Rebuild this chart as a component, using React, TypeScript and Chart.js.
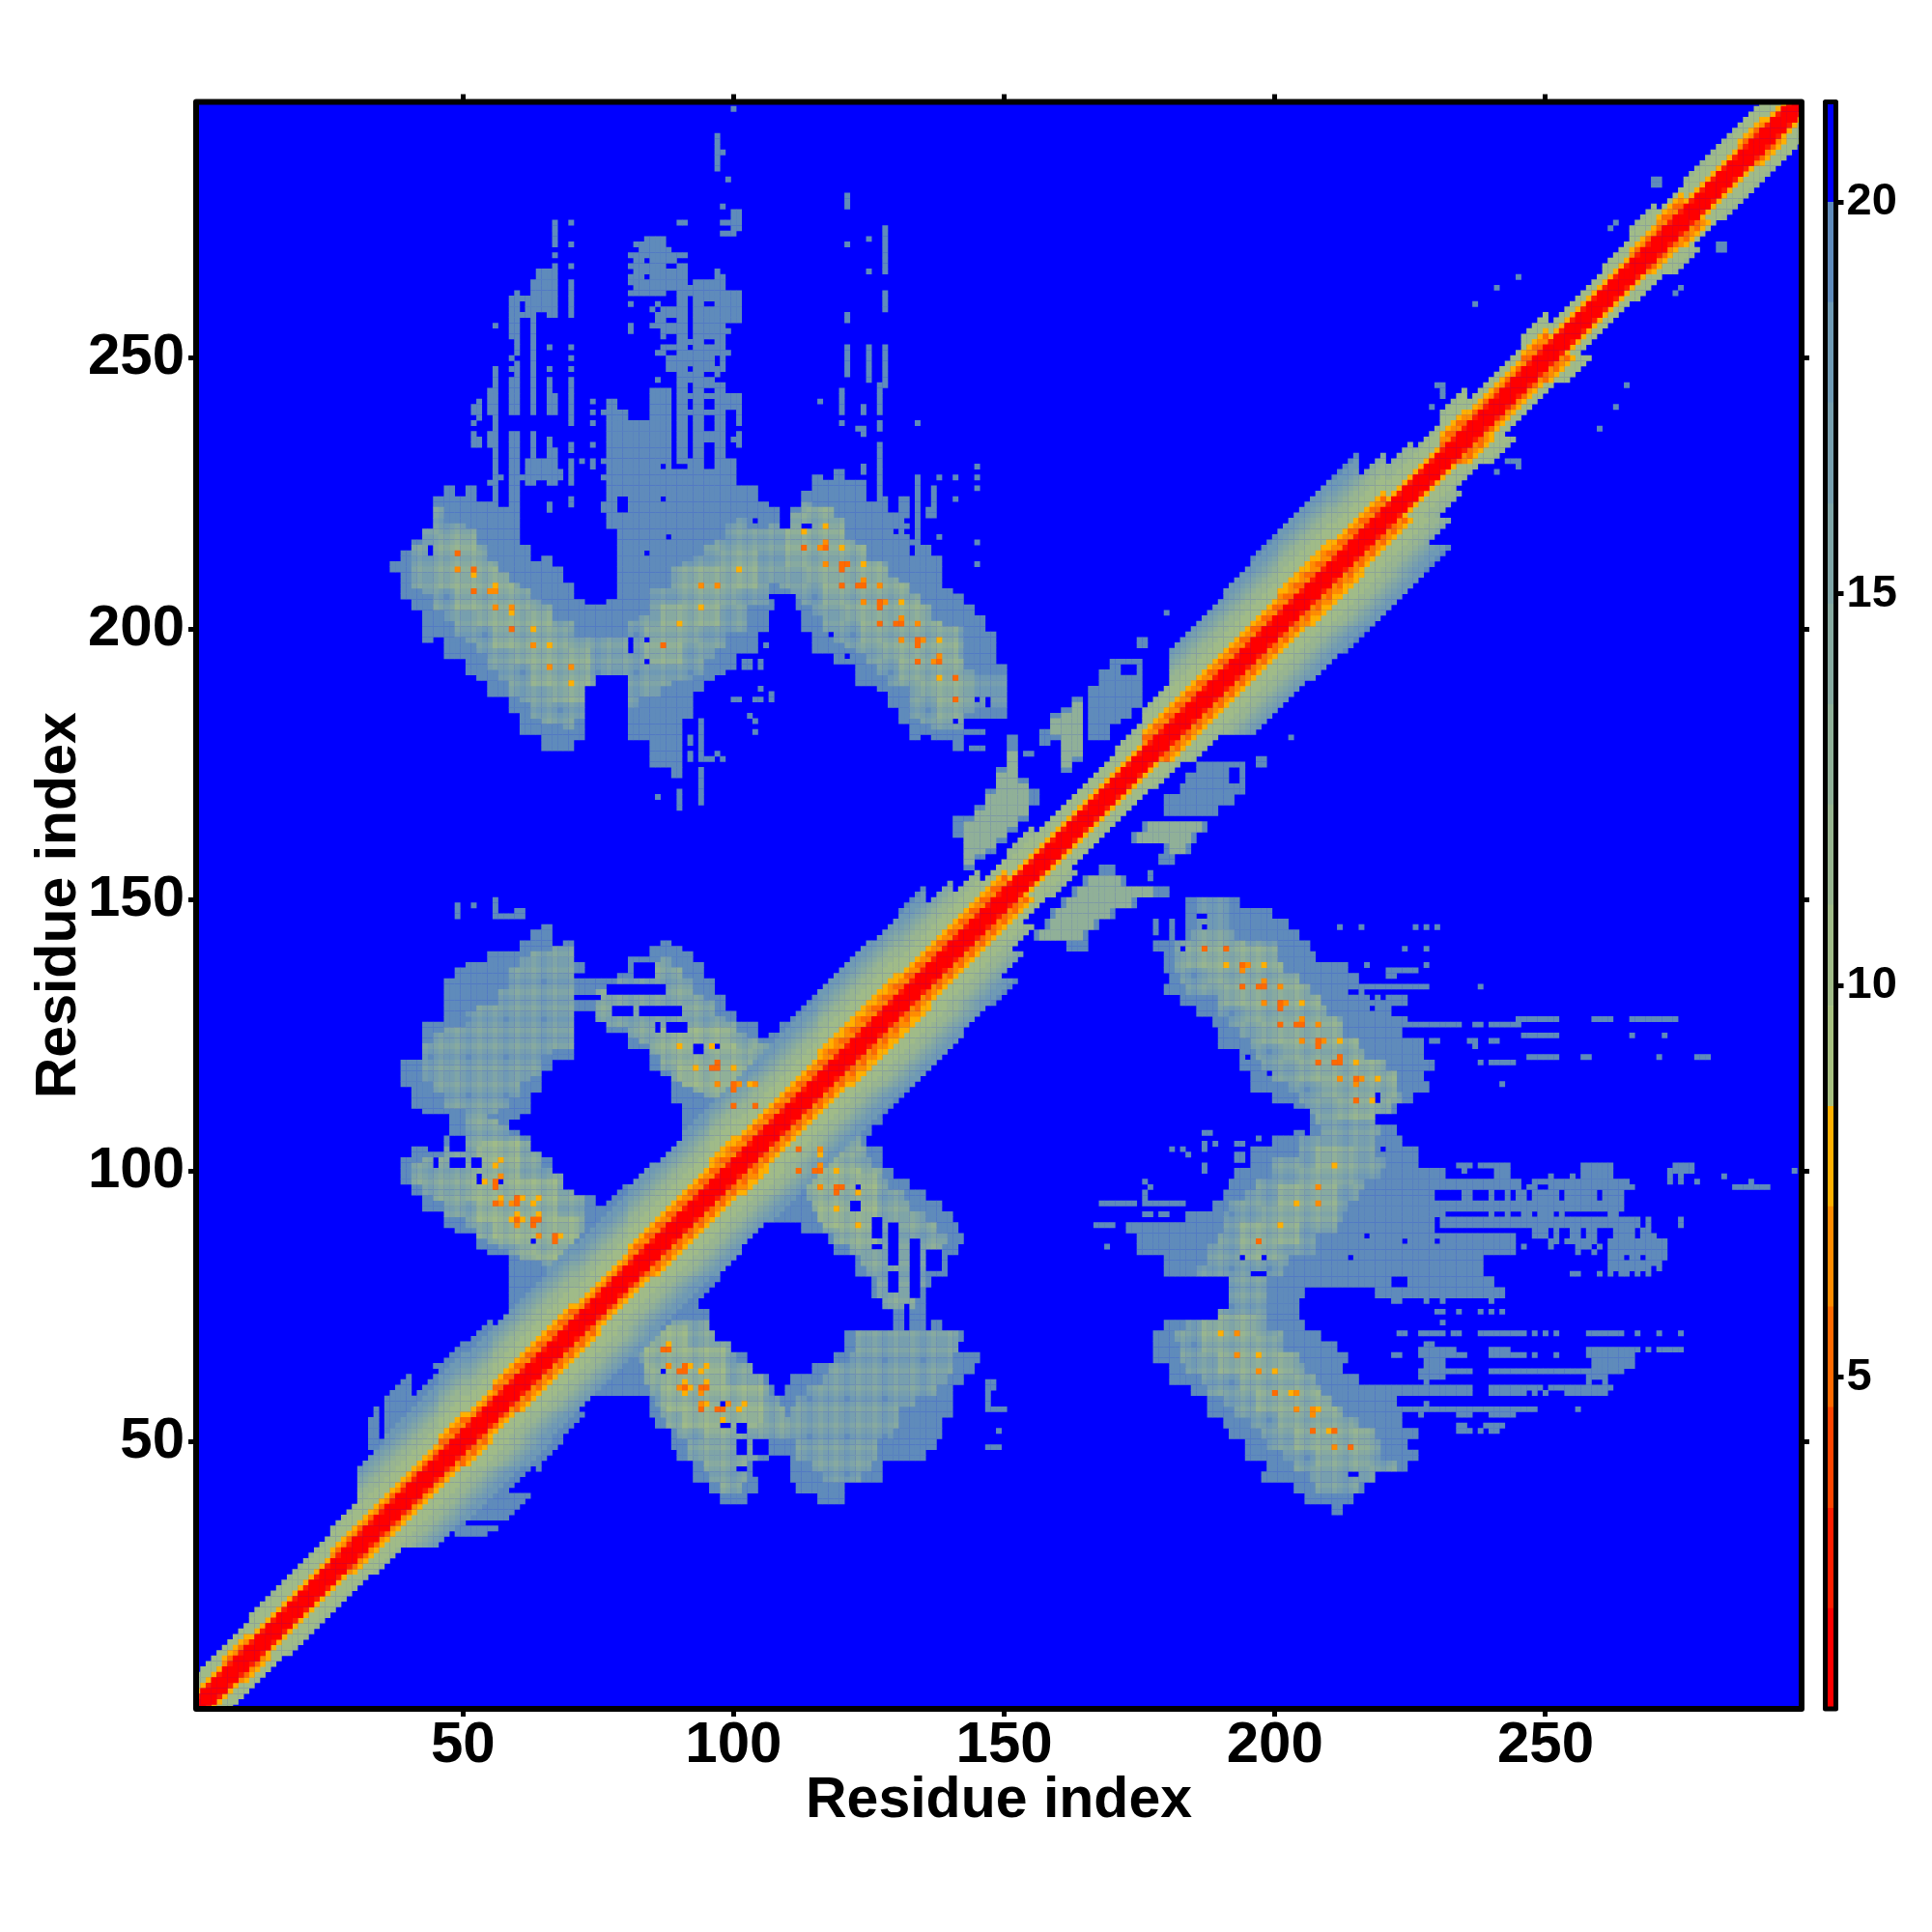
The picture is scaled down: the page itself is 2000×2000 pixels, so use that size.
import React, { useEffect, useRef } from "react";
import { Chart, registerables } from "chart.js";

Chart.register(...registerables);

const tickValues = [50, 100, 150, 200, 250];
const colorbarTicks = [5, 10, 15, 20];
const axisTitle = "Residue index";
const residueCount = 297;

const levelColors = [
  "#ff0000", "#ff1e00", "#ff4500", "#ff6a00", "#ff8c00", "#ffb000",
  "#a7c080", "#a0bb88", "#98b590", "#90b098", "#87aaa0", "#7fa5a7", "#779fae", "#6f9ab4", "#5f8bbb",
  "#0000ff",
];
const colorbarEdges = [0.77, 2.05, 3.33, 4.62, 5.9, 7.18, 8.46, 9.74, 11.03, 12.31, 13.59, 14.87, 16.15, 17.44, 18.72, 20.0, 21.28];

// band around the diagonal: one entry per five residues (1, 6, 11, ...)
const steelReach = [6, 6, 7, 7, 7, 8, 14, 22, 17, 18, 17, 15, 15, 16, 16, 17, 16, 15, 16, 16, 16, 16, 17, 17, 17, 16, 17, 13, 10, 7, 8, 6, 6, 6, 7, 9, 15, 15, 16, 17, 17, 17, 17, 12, 9, 7, 9, 6, 6, 8, 5, 5, 6, 8, 6, 7, 7, 7, 7, 7];
const orangeReach = [3, 4, 3, 3, 3, 4, 4, 4, 4, 5, 4, 5, 5, 5, 4, 4, 5, 5, 5, 6, 5, 5, 5, 6, 6, 6, 5, 5, 5, 5, 3, 3, 3, 3, 3, 5, 5, 5, 5, 5, 6, 6, 5, 5, 3, 3, 5, 4, 4, 5, 3, 3, 3, 4, 5, 3, 3, 4, 3, 3];
const fadeLevels = [7, 7, 7, 8, 8, 9, 10, 11, 12, 13, 13];

// [row, firstColumn, lastColumn], each covering that row and the one below it
const outlineRuns = [
  [150, 184, 193], [148, 184, 199], [146, 184, 202], [144, 184, 204], [142, 178, 206], [140, 180, 207], [138, 180, 213], [136, 181, 215],
  [134, 180, 219], [132, 183, 224], [130, 186, 221], [128, 189, 224], [126, 190, 223], [124, 190, 227], [122, 194, 227], [120, 194, 229],
  [118, 196, 227], [116, 196, 228], [114, 200, 225], [112, 204, 222], [110, 204, 218], [108, 204, 222], [106, 200, 223], [104, 196, 226],
  [102, 196, 226], [100, 193, 231], [98, 192, 245], [96, 191, 229], [94, 189, 264], [92, 184, 229], [90, 173, 229], [88, 175, 244],
  [86, 175, 244], [84, 180, 238], [82, 180, 238], [80, 193, 221], [80, 225, 240], [78, 195, 205], [78, 219, 242],
  [76, 192, 204], [74, 191, 204], [72, 180, 205], [70, 178, 208], [68, 178, 211], [66, 178, 213], [64, 181, 212], [62, 181, 215],
  [60, 185, 222], [58, 188, 222], [56, 188, 223], [54, 191, 223], [52, 192, 226], [50, 195, 224], [48, 195, 226], [46, 199, 224],
  [44, 198, 216], [42, 204, 216], [40, 206, 214], [38, 211, 212],
  [110, 111, 127], [108, 109, 125], [106, 107, 124], [104, 105, 127], [102, 103, 127], [100, 101, 129], [98, 99, 132], [96, 97, 135],
  [94, 95, 138], [92, 93, 140], [90, 113, 141], [88, 118, 142], [86, 119, 141], [84, 123, 139], [82, 123, 139], [80, 126, 136],
  [78, 126, 135], [76, 128, 135], [74, 130, 135], [72, 130, 131], [72, 133, 135], [72, 137, 138],
  [70, 121, 142], [68, 121, 141], [66, 119, 145], [64, 115, 144], [62, 111, 142], [60, 110, 140],
  [76, 77, 93], [74, 75, 95], [72, 73, 95], [70, 71, 95], [68, 69, 99], [66, 67, 102], [64, 65, 103], [62, 63, 106], [60, 61, 107],
  [58, 85, 140], [56, 85, 140], [54, 86, 138], [52, 89, 138], [50, 89, 137], [48, 90, 135], [46, 93, 127], [44, 93, 104], [44, 111, 127],
  [42, 96, 104], [42, 112, 114], [42, 115, 120], [40, 98, 102], [40, 116, 120],
  [156, 168, 170], [154, 165, 172], [152, 163, 180], [150, 161, 174], [148, 159, 170], [146, 158, 167], [144, 156, 165], [142, 162, 165],
  [175, 186, 194], [173, 184, 194], [171, 183, 194], [169, 180, 192], [167, 180, 189], [164, 176, 187], [162, 174, 185], [160, 180, 184], [158, 179, 181],
];

// single-row specks outside the blobs: [row, firstColumn, lastColumn]
const noiseRuns = [
  [155, 177, 177], [154, 177, 177], [152, 173, 175], [146, 178, 178], [145, 178, 178], [144, 178, 178], [146, 181, 181], [145, 181, 181], [144, 181, 181], [143, 181, 181],
  [145, 212, 212], [145, 216, 216], [145, 226, 226], [145, 228, 228], [145, 230, 230], [141, 224, 224], [141, 228, 228], [138, 217, 217], [138, 228, 228], [137, 221, 226], [136, 221, 222],
  [134, 220, 228], [134, 238, 238], [127, 224, 234], [127, 237, 238], [127, 240, 243], [127, 244, 245], [124, 229, 230], [124, 236, 237], [124, 240, 241], [123, 237, 237],
  [120, 238, 238], [120, 240, 243], [120, 244, 244], [116, 242, 242],
  [128, 245, 252], [128, 259, 262], [128, 266, 274], [125, 246, 252], [125, 266, 266], [125, 272, 272], [121, 247, 252], [121, 257, 258], [121, 271, 271], [121, 278, 280],
  [107, 187, 188], [105, 187, 187], [104, 187, 187], [104, 181, 181], [104, 183, 183], [103, 184, 184], [105, 189, 189], [105, 193, 194], [106, 197, 197], [104, 197, 197], [103, 197, 197],
  [103, 193, 194], [102, 193, 194], [101, 187, 187], [100, 187, 187],
  [98, 176, 176], [97, 177, 177], [96, 176, 176], [95, 176, 176], [94, 168, 174], [94, 176, 180], [94, 181, 183], [92, 176, 177], [92, 179, 180], [90, 167, 170], [86, 169, 169],
  [101, 234, 236], [101, 238, 243], [101, 257, 262], [101, 274, 277],
  [100, 229, 231], [100, 235, 235], [100, 241, 243], [100, 257, 262], [100, 273, 277], [100, 296, 296],
  [99, 241, 243], [99, 251, 251], [99, 255, 255], [99, 257, 262], [99, 273, 273], [99, 275, 275], [99, 283, 283], [98, 288, 288],
  [98, 248, 265], [98, 273, 273], [98, 275, 275], [98, 278, 278], [97, 247, 248], [97, 251, 266], [97, 285, 291],
  [96, 235, 236], [96, 240, 240], [96, 243, 243], [96, 245, 246], [96, 248, 252], [96, 254, 259], [96, 261, 264],
  [95, 235, 236], [95, 240, 240], [95, 243, 243], [95, 245, 246], [95, 248, 252], [95, 254, 259], [95, 261, 264],
  [93, 229, 232], [93, 234, 262], [92, 230, 231], [92, 240, 240], [92, 243, 243], [92, 246, 247], [92, 249, 251], [92, 253, 253], [92, 262, 263],
  [91, 231, 267], [91, 269, 269], [91, 275, 275], [90, 231, 267], [90, 269, 269], [90, 275, 275],
  [89, 248, 250], [89, 252, 252], [89, 255, 256], [89, 258, 259], [89, 263, 266], [89, 268, 269], [88, 248, 250], [88, 252, 252], [88, 255, 256], [88, 258, 259], [88, 263, 266], [88, 268, 270],
  [87, 251, 252], [87, 254, 257], [87, 258, 259], [87, 262, 265], [87, 266, 272],
  [86, 246, 246], [86, 251, 251], [86, 256, 258], [86, 260, 260], [86, 262, 272], [85, 256, 256], [85, 259, 259], [85, 262, 272],
  [84, 262, 264], [84, 266, 267], [84, 269, 272], [83, 262, 271], [82, 262, 266], [82, 267, 268], [82, 269, 269], [82, 271, 271],
  [81, 255, 256], [81, 260, 260], [81, 262, 262], [81, 264, 265], [81, 267, 267], [81, 269, 269],
  [77, 222, 223], [77, 227, 231], [77, 234, 242], [76, 222, 223], [76, 228, 228], [76, 231, 231], [76, 240, 240], [74, 230, 231], [74, 234, 234], [74, 238, 238], [74, 240, 240], [74, 242, 242], [72, 231, 231],
  [70, 223, 224], [70, 227, 231], [70, 233, 234], [70, 238, 246], [70, 248, 248], [70, 250, 250], [70, 252, 252], [70, 258, 264], [70, 267, 267], [70, 271, 271], [70, 275, 275],
  [68, 228, 229], [67, 227, 233], [67, 240, 243], [67, 258, 267], [67, 269, 269], [67, 271, 275], [66, 227, 235], [66, 240, 246], [66, 248, 248], [66, 252, 252], [66, 258, 266], [66, 222, 223],
  [65, 228, 231], [65, 259, 266], [64, 228, 231], [64, 259, 266],
  [63, 227, 236], [63, 240, 264], [62, 227, 231], [62, 258, 261], [61, 228, 228], [61, 258, 258], [61, 261, 261],
  [60, 220, 236], [60, 240, 249], [60, 251, 251], [60, 252, 262], [59, 220, 236], [59, 240, 244], [59, 245, 246], [59, 248, 248], [59, 250, 250], [59, 254, 261],
  [57, 228, 228], [56, 223, 248], [56, 256, 256], [55, 227, 227], [55, 234, 236], [55, 240, 244], [53, 234, 235], [53, 239, 242], [52, 234, 236], [52, 238, 238], [52, 240, 241],
  [61, 147, 148], [60, 147, 148], [59, 147, 147], [58, 147, 147], [57, 147, 147], [56, 147, 150], [52, 149, 149], [49, 147, 149],
  [271, 282, 283], [270, 282, 283], [263, 275, 275], [262, 274, 274], [245, 265, 265], [241, 263, 263], [237, 260, 260], [231, 243, 245], [230, 245, 245], [229, 241, 241],
  [176, 197, 198], [175, 197, 198], [180, 203, 203], [45, 64, 64], [43, 60, 60], [35, 44, 50], [34, 44, 56], [33, 49, 54],
];

// blue gaps in the blobs: [firstColumn, lastColumn, lowRow, highRow]
const holeBoxes = [
  [186, 187, 147, 147], [187, 187, 145, 145], [183, 183, 141, 141], [214, 215, 133, 133], [217, 219, 133, 133], [218, 218, 132, 132], [220, 220, 132, 133], [218, 218, 130, 130],
  [195, 195, 121, 121], [199, 199, 118, 118], [219, 219, 113, 114], [204, 206, 108, 111], [206, 206, 107, 107], [220, 220, 104, 104], [217, 217, 88, 88], [224, 224, 87, 87], [230, 230, 87, 87],
  [214, 214, 84, 84], [194, 194, 84, 84], [198, 198, 84, 84], [196, 198, 81, 81], [214, 215, 44, 44], [192, 193, 172, 174],
  [126, 127, 88, 91], [129, 130, 88, 90], [126, 127, 86, 86], [129, 130, 83, 87], [133, 134, 77, 87], [136, 138, 82, 85], [129, 130, 78, 81], [132, 132, 72, 75], [122, 123, 93, 94], [123, 123, 97, 97], [113, 113, 104, 104], [112, 112, 103, 103],
  [101, 102, 48, 50], [104, 106, 48, 50], [101, 102, 45, 45], [98, 99, 53, 53], [101, 102, 52, 53], [98, 98, 57, 57], [87, 87, 63, 63], [104, 106, 44, 46], [107, 110, 43, 47],
  [77, 80, 66, 71], [80, 83, 70, 74],
];

// lighter cells in the blobs: [row, firstColumn, lastColumn], each covering that row and the one below it
const coreFarRuns = [
  [150, 185, 192], [148, 185, 192], [146, 185, 192], [144, 185, 192], [142, 182, 200], [140, 182, 200], [138, 182, 201], [136, 183, 204], [134, 184, 206],
  [132, 190, 208], [130, 190, 209], [128, 192, 212], [126, 194, 212], [124, 196, 215], [122, 197, 216], [120, 198, 220], [118, 200, 222], [116, 203, 222], [114, 205, 223], [112, 206, 221], [110, 208, 218], [108, 209, 219],
  [74, 190, 198], [72, 184, 198], [70, 182, 201], [68, 183, 201], [66, 183, 204], [64, 184, 205], [62, 187, 207], [60, 188, 208], [58, 191, 210], [56, 193, 212], [54, 196, 215], [52, 198, 218], [50, 199, 219], [48, 202, 219], [46, 204, 222], [44, 207, 218], [42, 208, 215],
];
const coreMiddleRuns = [
  [106, 205, 218], [104, 205, 218], [102, 200, 220], [100, 200, 219], [98, 197, 216], [96, 195, 215], [94, 192, 213], [92, 191, 212], [90, 191, 211], [88, 190, 207], [86, 188, 207], [84, 188, 202], [82, 186, 201], [80, 192, 198], [78, 192, 198], [76, 192, 198],
  [70, 123, 141], [68, 123, 141], [66, 122, 140], [64, 118, 140], [62, 117, 139], [60, 114, 137], [58, 112, 133], [56, 111, 130], [54, 111, 130], [52, 110, 129], [50, 112, 126], [48, 112, 126], [46, 115, 125], [44, 117, 123],
];
const coreArmRuns = [
  [106, 110, 123], [104, 111, 124], [102, 112, 125], [100, 112, 127], [98, 113, 128], [96, 114, 131], [94, 115, 132], [92, 116, 135], [90, 117, 137], [88, 119, 139], [86, 122, 138], [84, 124, 137], [82, 125, 135], [80, 127, 135], [78, 127, 134], [76, 128, 133],
  [72, 80, 95], [70, 82, 96], [68, 82, 99], [66, 83, 100], [64, 84, 103], [62, 84, 105], [60, 85, 106], [58, 86, 108], [56, 87, 109], [54, 88, 110], [52, 90, 110], [50, 92, 106], [48, 92, 104], [46, 95, 102], [44, 96, 102], [42, 98, 101],
];
const islandRuns = [
  [154, 166, 171], [152, 164, 177], [150, 162, 173], [148, 160, 169], [146, 159, 166], [144, 157, 164],
  [164, 177, 186], [162, 175, 184], [160, 181, 183],
];
const latticeRowsFar = [141, 138, 134, 131, 127, 124, 120, 117, 113, 110, 107, 104, 101, 97, 94, 90, 87, 84, 80, 77, 73, 70, 66, 63, 59, 56, 52, 49, 45, 42];
const latticeRowsNear = [104, 100, 97, 93, 90, 86, 83, 79, 76, 73, 70, 67, 63, 60, 56, 53, 49, 46, 42, 39];
const latticeCols = [84, 88, 91, 95, 98, 102, 105, 109, 112, 116, 119, 123, 126, 130, 133, 137, 140, 183, 187, 190, 194, 197, 201, 204, 208, 211, 215, 218, 222];
const coreBases = { far: 14, middle: 14, arm: 13 };
const islandLevel = 9;
const lineLift = 2;
const nearLift = 1;
const hotLift = 2;

// strongest contacts: [column, row, level]
const hotCells = [
  [187, 141, 3], [191, 141, 3], [191, 138, 5], [194, 138, 3], [195, 138, 4], [194, 137, 4], [198, 138, 5], [194, 134, 3], [197, 134, 3], [198, 134, 3], [198, 135, 4], [201, 134, 4],
  [198, 131, 4], [201, 131, 3], [202, 131, 4], [201, 130, 3], [205, 131, 5], [201, 127, 3], [204, 127, 3], [205, 127, 3], [205, 128, 4], [208, 127, 4], [205, 124, 4], [208, 124, 3], [209, 124, 4], [208, 123, 3], [212, 124, 5],
  [208, 120, 3], [211, 120, 3], [212, 120, 3], [212, 121, 3], [215, 120, 5], [212, 117, 4], [215, 117, 3], [216, 117, 4], [215, 116, 4], [219, 117, 5], [215, 113, 3], [218, 113, 5],
  [211, 101, 5], [208, 97, 4], [204, 94, 5], [208, 94, 4], [201, 90, 5], [197, 87, 3],
  [190, 70, 5], [193, 70, 4], [193, 66, 4], [197, 66, 5], [197, 63, 4], [200, 63, 5], [200, 59, 3], [203, 59, 5], [204, 59, 4], [204, 56, 4], [207, 56, 4], [208, 56, 5], [207, 55, 4], [207, 52, 3], [210, 52, 5], [211, 52, 3], [211, 49, 4], [214, 49, 3],
  [112, 104, 3], [116, 104, 4], [116, 103, 5], [112, 100, 3], [115, 100, 3], [116, 100, 3], [116, 101, 4], [119, 100, 5], [116, 97, 4], [119, 97, 3], [120, 97, 3], [119, 96, 3], [123, 96, 5], [119, 93, 5], [123, 90, 5],
  [87, 67, 3], [88, 67, 3], [88, 68, 5], [88, 64, 4], [91, 64, 3], [90, 63, 3], [91, 63, 3], [92, 64, 5], [95, 64, 5], [94, 63, 5], [91, 61, 5], [95, 61, 5], [90, 60, 4], [91, 60, 3], [92, 60, 5], [94, 60, 3], [95, 60, 3], [91, 59, 5], [94, 59, 4],
  [94, 57, 4], [95, 57, 5], [94, 56, 3], [97, 56, 3], [98, 56, 3], [99, 57, 4], [101, 56, 5], [102, 57, 5], [98, 54, 5],
];

function buildCells(): Map<number, number> {
  const cells = new Map<number, number>();
  const put = (row: number, col: number, level: number) => {
    if (col > row && col <= residueCount) cells.set(row * 1000 + col, level);
  };
  const nearHot = (r: number, c: number) => hotCells.some(([hc, hr]) => Math.abs(hc - c) <= 3 && Math.abs(hr - r) <= 3);
  for (const [row, a, b] of outlineRuns) for (const r of [row, row - 1]) for (let c = a; c <= b; c++) put(r, c, 14);
  for (const [row, a, b] of noiseRuns) for (let c = a; c <= b; c++) put(row, c, 14);
  const paintCore = (runs: number[][], base: number, rowLines: number[]) => {
    for (const [row, a, b] of runs) {
      for (const r of [row, row - 1]) {
        for (let c = a; c <= b; c++) {
          const rowLift = rowLines.includes(r) ? lineLift : rowLines.includes(r + 1) || rowLines.includes(r - 1) ? nearLift : 0;
          const colLift = latticeCols.includes(c) ? lineLift : latticeCols.includes(c + 1) || latticeCols.includes(c - 1) ? nearLift : 0;
          put(r, c, Math.max(7, base - rowLift - colLift - (nearHot(r, c) ? hotLift : 0)));
        }
      }
    }
  };
  paintCore(coreFarRuns, coreBases.far, latticeRowsFar);
  paintCore(coreMiddleRuns.filter((run) => run[1] > 170), coreBases.middle, latticeRowsFar);
  paintCore(coreMiddleRuns.filter((run) => run[1] <= 170), coreBases.middle, latticeRowsNear);
  paintCore(coreArmRuns, coreBases.arm, latticeRowsNear);
  for (const [row, a, b] of islandRuns) for (const r of [row, row - 1]) for (let c = a; c <= b; c++) put(r, c, islandLevel);
  for (const [a, b, lo, hi] of holeBoxes) for (let r = lo; r <= hi; r++) for (let c = a; c <= b; c++) cells.delete(r * 1000 + c);
  for (let row = 1; row <= residueCount; row++) {
    const k = Math.min(59, Math.floor((row - 1) / 5));
    const reach = steelReach[k];
    const orange = orangeReach[k];
    for (let d = 0; d <= reach; d++) {
      let level: number;
      if (d <= 1) level = 0;
      else if (d === 2) level = row % 2 ? 1 : 0;
      else if (d === orange) level = 5;
      else if (d < orange) level = 3 + ((row + d) % 2) + (d > 4 ? 1 : 0);
      else level = fadeLevels[d - orange - 1] ?? 14;
      if (d === 0) cells.set(row * 1000 + row, level);
      else put(row, row + d, level);
    }
  }
  for (const [col, row, level] of hotCells) put(row, col, level);
  return cells;
}

const frame = {
  id: "frame",
  afterDraw(chart: any) {
    const { ctx, chartArea: a } = chart;
    ctx.save();
    ctx.strokeStyle = "#000";
    ctx.lineWidth = chart.canvas.dataset.frame === "bar" ? 5 : 6;
    ctx.lineJoin = "round";
    ctx.strokeRect(a.left, a.top, a.right - a.left, a.bottom - a.top);
    ctx.restore();
  },
};
const blueBackdrop = {
  id: "blueBackdrop",
  beforeDatasetsDraw(chart: any) {
    const { ctx, chartArea: a } = chart;
    ctx.save();
    ctx.fillStyle = levelColors[15];
    ctx.fillRect(a.left, a.top, a.right - a.left, a.bottom - a.top);
    ctx.restore();
  },
};

const tickFont = { family: "'Liberation Sans'", weight: "bold" as const, size: 60, lineHeight: 1 };
const titleFont = { family: "'Liberation Sans'", weight: "bold" as const, size: 59 };
const setTicks = (values: number[]) => (scale: any) => {
  scale.ticks = values.map((value) => ({ value }));
};
const fixSize = (key: "width" | "height", size: number) => (scale: any) => {
  scale[key] = size;
};
const markGrid = { display: true, drawOnChartArea: false, drawTicks: true, tickLength: 8, tickWidth: 5, tickColor: "#000", z: 1 };

export default function App() {
  const mainRef = useRef<HTMLCanvasElement>(null);
  const barRef = useRef<HTMLCanvasElement>(null);
  useEffect(() => {
    const cells = buildCells();
    const byLevel: { x: number; y: number }[][] = levelColors.map(() => []);
    cells.forEach((level, key) => {
      const row = Math.floor(key / 1000);
      const col = key % 1000;
      byLevel[level].push({ x: col, y: row });
      if (col !== row) byLevel[level].push({ x: row, y: col });
    });
    const range = { min: 0.7, max: 297.3 };
    const main = new Chart(mainRef.current!, {
      type: "scatter",
      data: {
        datasets: byLevel.slice(0, 15).map((points, i) => ({
          data: points,
          pointStyle: "rect",
          pointRadius: 4.2,
          pointHoverRadius: 4.2,
          pointBorderWidth: 0,
          pointBackgroundColor: levelColors[i],
          showLine: false,
          clip: 0,
          order: i,
        })),
      },
      options: {
        animation: false,
        responsive: false,
        events: [],
        layout: { padding: 0 },
        plugins: { legend: { display: false }, tooltip: { enabled: false } },
        scales: {
          x: {
            type: "linear", position: "bottom", ...range,
            afterBuildTicks: setTicks(tickValues), afterFit: fixSize("height", 231),
            grid: markGrid, border: { display: false },
            ticks: { font: tickFont, color: "#000", padding: 0, maxRotation: 0, autoSkip: false, callback: (v: any) => String(v) },
            title: { display: true, text: axisTitle, color: "#000", font: titleFont, padding: { top: 0, bottom: 100 } },
          },
          y: {
            type: "linear", position: "left", ...range,
            afterBuildTicks: setTicks(tickValues), afterFit: fixSize("width", 203),
            grid: markGrid, border: { display: false },
            ticks: { font: tickFont, color: "#000", padding: 4, autoSkip: false, callback: (v: any) => String(v) },
            title: { display: true, text: axisTitle, color: "#000", font: titleFont, padding: { top: 26, bottom: 0 } },
          },
          xTop: {
            type: "linear", position: "top", ...range,
            afterBuildTicks: setTicks(tickValues), afterFit: fixSize("height", 105.5),
            grid: markGrid, border: { display: false }, ticks: { display: false },
          },
          yRight: {
            type: "linear", position: "right", ...range,
            afterBuildTicks: setTicks(tickValues), afterFit: fixSize("width", 135),
            grid: markGrid, border: { display: false }, ticks: { display: false },
          },
        },
      } as any,
      plugins: [blueBackdrop, frame],
    });
    const bar = new Chart(barRef.current!, {
      type: "bar",
      data: {
        labels: [""],
        datasets: levelColors.map((color, i) => ({
          data: [[colorbarEdges[i], colorbarEdges[i + 1]]] as any,
          backgroundColor: color,
          barPercentage: 1,
          categoryPercentage: 1,
          grouped: false,
        })),
      },
      options: {
        animation: false,
        responsive: false,
        events: [],
        layout: { padding: { left: 1889.5, top: 105.5, bottom: 231, right: 0 } },
        plugins: { legend: { display: false }, tooltip: { enabled: false } },
        scales: {
          x: { display: false },
          y: {
            type: "linear", position: "right", min: 0.77, max: 21.28,
            afterBuildTicks: setTicks(colorbarTicks), afterFit: fixSize("width", 99.5),
            grid: markGrid, border: { display: false },
            ticks: { font: { family: "'Liberation Sans'", weight: "bold", size: 47, lineHeight: 1 }, color: "#000", padding: 3, autoSkip: false, callback: (v: any) => String(v) },
          },
        },
      } as any,
      plugins: [frame],
    });
    return () => {
      main.destroy();
      bar.destroy();
    };
  }, []);
  const style: React.CSSProperties = { position: "absolute", left: 0, top: 0 };
  return (
    <div>
      <canvas ref={mainRef} width={2000} height={2000} style={style} />
      <canvas ref={barRef} data-frame="bar" width={2000} height={2000} style={style} />
    </div>
  );
}
